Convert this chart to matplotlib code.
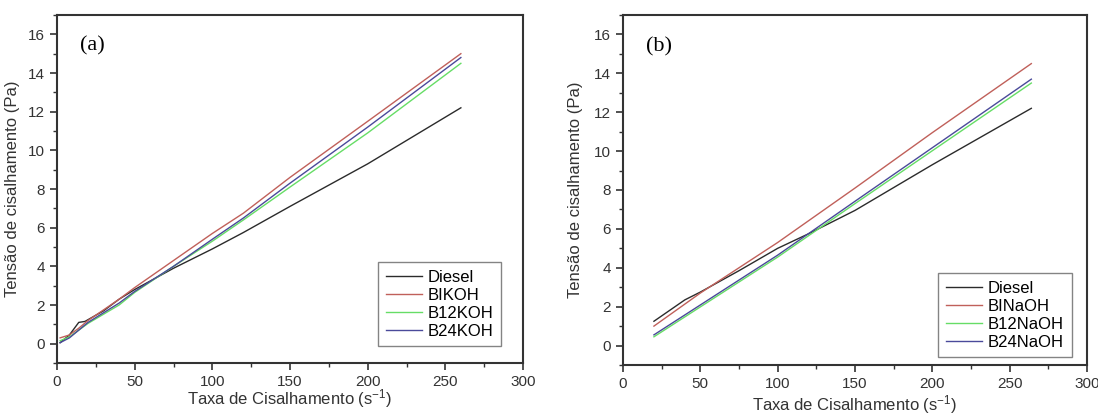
import matplotlib
matplotlib.use("Agg")
import matplotlib.pyplot as plt
from matplotlib.ticker import MultipleLocator

plt.rcParams['font.family'] = ['Liberation Sans', 'DejaVu Sans']
plt.rcParams['mathtext.fontset'] = 'custom'
plt.rcParams['mathtext.rm'] = 'Liberation Sans'
plt.rcParams['mathtext.it'] = 'Liberation Sans'

# Panel (a) - KOH
xa_diesel = [2, 8, 14, 18, 30, 40, 50, 75, 100, 120, 150, 200, 260]
ya_diesel = [0.05, 0.45, 1.1, 1.15, 1.7, 2.3, 2.8, 3.9, 4.9, 5.75, 7.1, 9.3, 12.2]
xa_bi = [2, 8, 14, 20, 40, 50, 75, 100, 120, 150, 200, 260]
ya_bi = [0.3, 0.45, 0.8, 1.2, 2.3, 2.9, 4.3, 5.7, 6.75, 8.6, 11.5, 15.0]
xa_b12 = [2, 8, 20, 40, 50, 75, 100, 120, 150, 200, 260]
ya_b12 = [0.15, 0.35, 1.05, 2.0, 2.65, 4.0, 5.3, 6.4, 8.1, 10.9, 14.5]
xa_b24 = [2, 8, 20, 40, 50, 75, 100, 120, 150, 200, 260]
ya_b24 = [0.05, 0.3, 1.1, 2.1, 2.7, 4.0, 5.4, 6.5, 8.3, 11.2, 14.8]
labels_a = ["Diesel", "BIKOH", "B12KOH", "B24KOH"]

# Panel (b) - NaOH
xb_diesel = [20, 40, 50, 75, 100, 120, 150, 200, 264]
yb_diesel = [1.25, 2.35, 2.75, 3.85, 5.0, 5.75, 6.95, 9.3, 12.2]
xb_bi = [20, 50, 100, 150, 200, 264]
yb_bi = [1.0, 2.7, 5.3, 8.1, 10.95, 14.5]
xb_b12 = [20, 100, 150, 264]
yb_b12 = [0.45, 4.55, 7.3, 13.5]
xb_b24 = [20, 100, 150, 264]
yb_b24 = [0.55, 4.65, 7.42, 13.7]
labels_b = ["Diesel", "BINaOH", "B12NaOH", "B24NaOH"]

colors = ["#2b2b2b", "#c0605a", "#66dd66", "#4a4a9a"]

fig = plt.figure(figsize=(10.98, 4.15), dpi=100)
ax1 = fig.add_axes([57/1098, 1-363/415, (523-57)/1098, (363-15)/415])
ax2 = fig.add_axes([623/1098, 1-365/415, (1087-623)/1098, (365-15)/415])

def style(ax, panel, legend_bbox):
    ax.set_xlim(0, 300)
    ax.set_ylim(-1, 17)
    ax.xaxis.set_major_locator(MultipleLocator(50))
    ax.xaxis.set_minor_locator(MultipleLocator(25))
    ax.yaxis.set_major_locator(MultipleLocator(2))
    ax.yaxis.set_minor_locator(MultipleLocator(1))
    ax.tick_params(which='major', direction='out', length=5, width=1.2,
                   labelsize=11, colors='#333333', top=False, right=False)
    ax.tick_params(which='minor', direction='out', length=3, width=1.0,
                   colors='#333333', top=False, right=False)
    for s in ax.spines.values():
        s.set_linewidth(1.5)
        s.set_color('#333333')
    ax.set_xlabel("Taxa de Cisalhamento (s$^{-1}$)", fontsize=12, color='#333333')
    ax.set_ylabel("Tensão de cisalhamento (Pa)", fontsize=12, color='#333333')
    ax.text(0.05, 0.91, panel, transform=ax.transAxes, fontsize=16,
            family=['Liberation Serif', 'DejaVu Serif'], va='center', ha='left')
    leg = ax.legend(loc='lower left', bbox_to_anchor=legend_bbox,
                    bbox_transform=fig.transFigure, fontsize=12,
                    frameon=True, fancybox=False, edgecolor='#666666',
                    handlelength=2.2, handletextpad=0.35, labelspacing=0.18,
                    borderpad=0.45, borderaxespad=0)
    leg.get_frame().set_linewidth(1.0)

for x, y, c, l in zip([xa_diesel, xa_bi, xa_b12, xa_b24],
                      [ya_diesel, ya_bi, ya_b12, ya_b24], colors, labels_a):
    ax1.plot(x, y, color=c, lw=1.0, label=l)
for x, y, c, l in zip([xb_diesel, xb_bi, xb_b12, xb_b24],
                      [yb_diesel, yb_bi, yb_b12, yb_b24], colors, labels_b):
    ax2.plot(x, y, color=c, lw=1.0, label=l)

style(ax1, "(a)", (378/1098, 1-346/415))
style(ax2, "(b)", (938/1098, 1-357/415))
ax1.xaxis.labelpad = -1
ax2.xaxis.labelpad = 2
ax1.yaxis.labelpad = 6
ax2.yaxis.labelpad = 8

fig.savefig("out.png", dpi=100)
